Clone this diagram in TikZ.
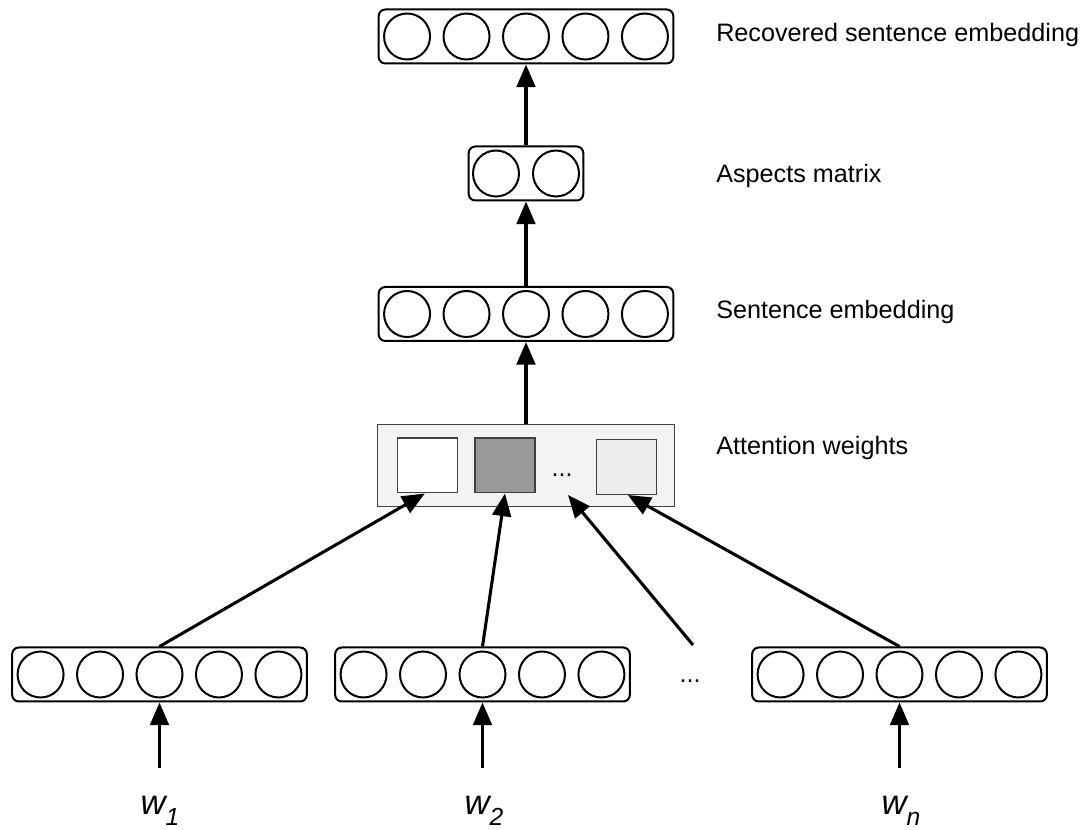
\documentclass[tikz,border=0pt]{standalone}
\usepackage{fontspec}
\setmainfont{Liberation Sans}
\usetikzlibrary{arrows.meta}
\definecolor{attfill}{HTML}{F3F3F3}
\definecolor{darksq}{HTML}{999999}
\definecolor{lightsq}{HTML}{EEEEEE}
\begin{document}
\begin{tikzpicture}[x=0.75pt,y=-0.75pt,
 vecbox/.style={draw, line width=1.5pt, rounded corners=5pt, minimum width=221pt, minimum height=40.5pt, inner sep=0pt},
 smallbox/.style={vecbox, minimum width=86pt},
 cell/.style={draw, circle, line width=1.5pt, minimum size=34.5pt, inner sep=0pt},
 attbox/.style={draw=black!75, line width=0.9pt, fill=attfill, minimum width=223pt, minimum height=62pt, inner sep=0pt},
 wsq/.style={draw=black!75, line width=1pt, minimum width=45pt, minimum height=41pt, inner sep=0pt},
 arr/.style={line width=2.3pt, -{Triangle[length=17pt,width=14pt]}},
 lab/.style={anchor=base west, inner sep=0pt, font=\fontsize{18.9}{22}\selectfont},
 dots/.style={anchor=base, inner sep=0pt, font=\fontsize{18.9}{22}\selectfont},
 wlab/.style={anchor=base, inner sep=0pt, font=\fontsize{26}{30}\selectfont\itshape}]
\useasboundingbox (0,0) rectangle (1083,830);

% vector boxes
\node[vecbox] (rec) at (526,36.5) {};
\node[smallbox] (asp) at (526,173.5) {};
\node[vecbox] (sen) at (526,314) {};
\node[vecbox] (b1) at (159.5,674.5) {};
\node[vecbox] (b2) at (482.5,674.5) {};
\node[vecbox] (b3) at (899.5,674.5) {};

\foreach \b in {rec,sen,b1,b2,b3}{
  \foreach \i in {-2,...,2}{
    \node[cell] (\b c\i) at ([xshift=\i*44.6pt]\b.center) {};
  }
}
\node[cell] (aspc1) at ([xshift=-22.5pt]asp.center) {};
\node[cell] (aspc2) at ([xshift=22.5pt]asp.center) {};

% attention weights
\node[attbox] (att) at (526,465.5) {};
\node[wsq, fill=white] (sq1) at (427.5,465.5) {};
\node[wsq, fill=darksq] (sq2) at (505,465.5) {};
\node[wsq, fill=lightsq] (sq3) at (626.5,467) {};
\node[dots] (attdots) at (562,477) {...};
\node[dots] (bdots) at (690,683) {...};

% labels
\node[lab] (lrec) at (716,42) {Recovered sentence embedding};
\node[lab] (lasp) at (716,183) {Aspects matrix};
\node[lab] (lsen) at (716,319) {Sentence embedding};
\node[lab] (latt) at (716,455) {Attention weights};

% word labels
\node[wlab] (w1) at (160,814) {w\raisebox{-8.5pt}{\fontsize{18.5}{21}\selectfont 1}};
\node[wlab] (w2) at (484,814) {w\raisebox{-8.5pt}{\fontsize{18.5}{21}\selectfont 2}};
\node[wlab] (wn) at (901,814) {w\raisebox{-8.5pt}{\fontsize{18.5}{21}\selectfont n}};

% connectors
\coordinate (s1) at (159.5,768);
\coordinate (s2) at (482.5,768);
\coordinate (s3) at (899.5,768);
\draw[arr] (s1) -- (b1.south);
\draw[arr] (s2) -- (b2.south);
\draw[arr] (s3) -- (b3.south);

\draw[arr] (b1.north) -- ([xshift=-2pt]sq1.south);
\draw[arr] (b2.north) -- (sq2.south);
\coordinate (free) at (693,645);
\coordinate (tip3) at (568,495);
\draw[arr] (free) -- (tip3);
\draw[arr] (b3.north) -- ([xshift=1pt]sq3.south);

\draw[arr] (att.north) -- (sen.south);
\draw[arr] (sen.north) -- (asp.south);
\draw[arr] (asp.north) -- (rec.south);
\end{tikzpicture}
\end{document}
